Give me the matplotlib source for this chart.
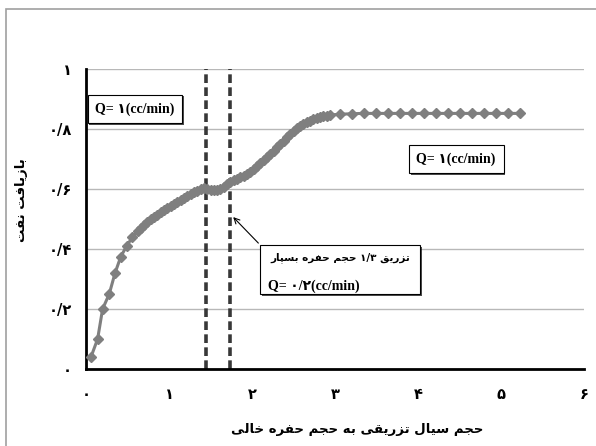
import matplotlib
matplotlib.use("Agg")
import matplotlib.pyplot as plt
import matplotlib.patheffects as pe
from matplotlib.patches import Rectangle

# injected pore volumes / oil recovery
pv = [0.06, 0.14, 0.20, 0.28, 0.35, 0.42, 0.49, 0.56, 0.63,
      0.66, 0.70, 0.74, 0.78, 0.82, 0.86, 0.90, 0.94, 0.98, 1.02,
      1.06, 1.10, 1.14, 1.18, 1.22, 1.26, 1.30, 1.34, 1.38, 1.42,
      1.46, 1.50, 1.54, 1.58, 1.62, 1.66, 1.70, 1.74, 1.78, 1.82,
      1.86, 1.90, 1.94, 1.98, 2.02, 2.06, 2.10, 2.14, 2.18, 2.22,
      2.26, 2.30, 2.34, 2.38, 2.42, 2.46, 2.50, 2.54, 2.58, 2.62,
      2.66, 2.70, 2.74, 2.78, 2.82, 2.86, 2.90, 2.94,
      3.06, 3.20, 3.35, 3.49, 3.64, 3.78, 3.93, 4.07, 4.22, 4.36,
      4.51, 4.65, 4.80, 4.94, 5.09, 5.23]
recovery = [0.04, 0.10, 0.20, 0.25, 0.32, 0.375, 0.41, 0.44, 0.46,
            0.47, 0.48, 0.49, 0.50, 0.507, 0.515, 0.522, 0.529, 0.536, 0.543,
            0.55, 0.557, 0.564, 0.571, 0.578, 0.585, 0.590, 0.595, 0.600, 0.603,
            0.600, 0.598, 0.597, 0.597, 0.600, 0.608, 0.618, 0.625, 0.630, 0.635,
            0.640, 0.645, 0.650, 0.658, 0.667, 0.676, 0.686, 0.696, 0.707, 0.717,
            0.728, 0.739, 0.749, 0.760, 0.772, 0.785, 0.795, 0.803, 0.810, 0.817,
            0.823, 0.828, 0.832, 0.836, 0.839, 0.842, 0.845, 0.847,
            0.849, 0.851, 0.852, 0.852, 0.852, 0.852, 0.852, 0.852, 0.852, 0.852,
            0.852, 0.852, 0.852, 0.852, 0.852, 0.852]
slug_start, slug_end = 1.45, 1.73

x_ticks = [0, 1, 2, 3, 4, 5, 6]
x_ticklabels = ["۰", "۱", "۲", "۳", "۴", "۵", "۶"]
y_ticks = [0, 0.2, 0.4, 0.6, 0.8, 1.0]
y_ticklabels = ["۰", "۰/۲", "۰/۴", "۰/۶", "۰/۸", "۱"]

xlabel = "حجم سیال تزریقی به حجم حفره خالی"
ylabel = "بازیافت نفت"
slug_note = "تزریق ۱/۳ حجم حفره بسپار"
rate_high = "Q= ۱(cc/min)"
rate_low = "Q= ۰/۲(cc/min)"

# minimal persian shaping: (isolated, final, initial, medial)
FORMS = {
    "ا": ("\uFE8D", "\uFE8E", None, None),
    "ب": ("\uFE8F", "\uFE90", "\uFE91", "\uFE92"),
    "پ": ("\uFB56", "\uFB57", "\uFB58", "\uFB59"),
    "ت": ("\uFE95", "\uFE96", "\uFE97", "\uFE98"),
    "ج": ("\uFE9D", "\uFE9E", "\uFE9F", "\uFEA0"),
    "ح": ("\uFEA1", "\uFEA2", "\uFEA3", "\uFEA4"),
    "خ": ("\uFEA5", "\uFEA6", "\uFEA7", "\uFEA8"),
    "ر": ("\uFEAD", "\uFEAE", None, None),
    "ز": ("\uFEAF", "\uFEB0", None, None),
    "س": ("\uFEB1", "\uFEB2", "\uFEB3", "\uFEB4"),
    "ف": ("\uFED1", "\uFED2", "\uFED3", "\uFED4"),
    "ق": ("\uFED5", "\uFED6", "\uFED7", "\uFED8"),
    "ل": ("\uFEDD", "\uFEDE", "\uFEDF", "\uFEE0"),
    "م": ("\uFEE1", "\uFEE2", "\uFEE3", "\uFEE4"),
    "ن": ("\uFEE5", "\uFEE6", "\uFEE7", "\uFEE8"),
    "ه": ("\uFEE9", "\uFEEA", "\uFEEB", "\uFEEC"),
    "ی": ("\uFBFC", "\uFBFD", "\uFBFE", "\uFBFF"),
}


def shape_word(word):
    if not any(c in FORMS for c in word):
        return word
    out = []
    for i, ch in enumerate(word):
        if ch not in FORMS:
            out.append(ch)
            continue
        prev = word[i - 1] if i > 0 else None
        nxt = word[i + 1] if i < len(word) - 1 else None
        join_prev = prev in FORMS and FORMS[prev][2] is not None
        join_next = nxt in FORMS and FORMS[ch][2] is not None
        iso, fin, ini, med = FORMS[ch]
        if join_prev and join_next:
            out.append(med)
        elif join_prev:
            out.append(fin)
        elif join_next:
            out.append(ini)
        else:
            out.append(iso)
    return "".join(reversed(out))


def farsi(text):
    # right-to-left: shape each word and lay the words out in reverse
    return " ".join(shape_word(w) for w in reversed(text.split(" ")))


FA = ["DejaVu Sans"]
SERIF = ["Liberation Serif", "DejaVu Sans"]

fig = plt.figure(figsize=(5.96, 4.46), dpi=100)
ax = fig.add_axes([86 / 596, 1 - 369 / 446, 498 / 596, 300 / 446])

ax.set_xlim(0, 6)
ax.set_ylim(0, 1)
for y in y_ticks[1:]:
    ax.axhline(y, color="#b8b8b8", lw=1, zorder=0)

ax.axvline(slug_start, color="#383838", lw=2.6, dashes=(2.4, 1.2), zorder=2)
ax.axvline(slug_end, color="#383838", lw=2.6, dashes=(2.4, 1.2), zorder=2)

ax.plot(pv, recovery, color="#7f7f7f", lw=2.2, marker="D", ms=5,
        markeredgecolor="#7f7f7f", zorder=3)

for side in ["top", "right"]:
    ax.spines[side].set_visible(False)
ax.spines["left"].set_linewidth(2)
ax.spines["bottom"].set_linewidth(2)
ax.set_xticks(x_ticks)
ax.set_xticklabels(x_ticklabels, family=FA, fontweight="bold", fontsize=10.5)
ax.set_yticks(y_ticks)
ax.set_yticklabels(y_ticklabels, family=FA, fontweight="bold", fontsize=10.5)
ax.tick_params(axis="x", length=0, pad=13)
ax.tick_params(axis="y", length=0, pad=10)

fig.text(357 / 596, 1 - 430 / 446, farsi(xlabel), family=FA, fontweight="bold",
         fontsize=9.5, ha="center", va="center")
fig.text(22 / 596, 1 - 200 / 446, farsi(ylabel), family=FA, fontweight="bold",
         fontsize=9.5, ha="center", va="center", rotation=90)

shadow = [pe.withSimplePatchShadow(offset=(1.2, -1.2), shadow_rgbFace="black", alpha=0.7)]
for xt, yt in [(0.59, 0.867), (4.46, 0.70)]:
    t = ax.text(xt, yt, rate_high, family=SERIF, fontweight="bold", fontsize=10,
                ha="center", va="center", zorder=5,
                bbox=dict(boxstyle="square,pad=0.55", fc="white", ec="black", lw=0.8))
    t.get_bbox_patch().set_path_effects(shadow)

box = Rectangle((2.10, 0.25), 1.93, 0.163, fc="white", ec="black", lw=0.8, zorder=5)
box.set_path_effects(shadow)
ax.add_patch(box)
ax.text(3.91, 0.373, farsi(slug_note), family=FA, fontweight="bold", fontsize=7.5,
        ha="right", va="center", zorder=6)
ax.text(2.19, 0.277, rate_low, family=SERIF, fontweight="bold", fontsize=10,
        ha="left", va="center", zorder=6)
ax.annotate("", xy=(1.75, 0.513), xytext=(2.10, 0.413),
            arrowprops=dict(arrowstyle="->", lw=0.8, color="black"), zorder=6)

fig.patches.append(Rectangle((6 / 596, -0.1), 1.2, 1.1 - 9 / 446, transform=fig.transFigure,
                             fill=False, ec="#a0a0a0", lw=1.2))

fig.savefig("out.png", dpi=100)
